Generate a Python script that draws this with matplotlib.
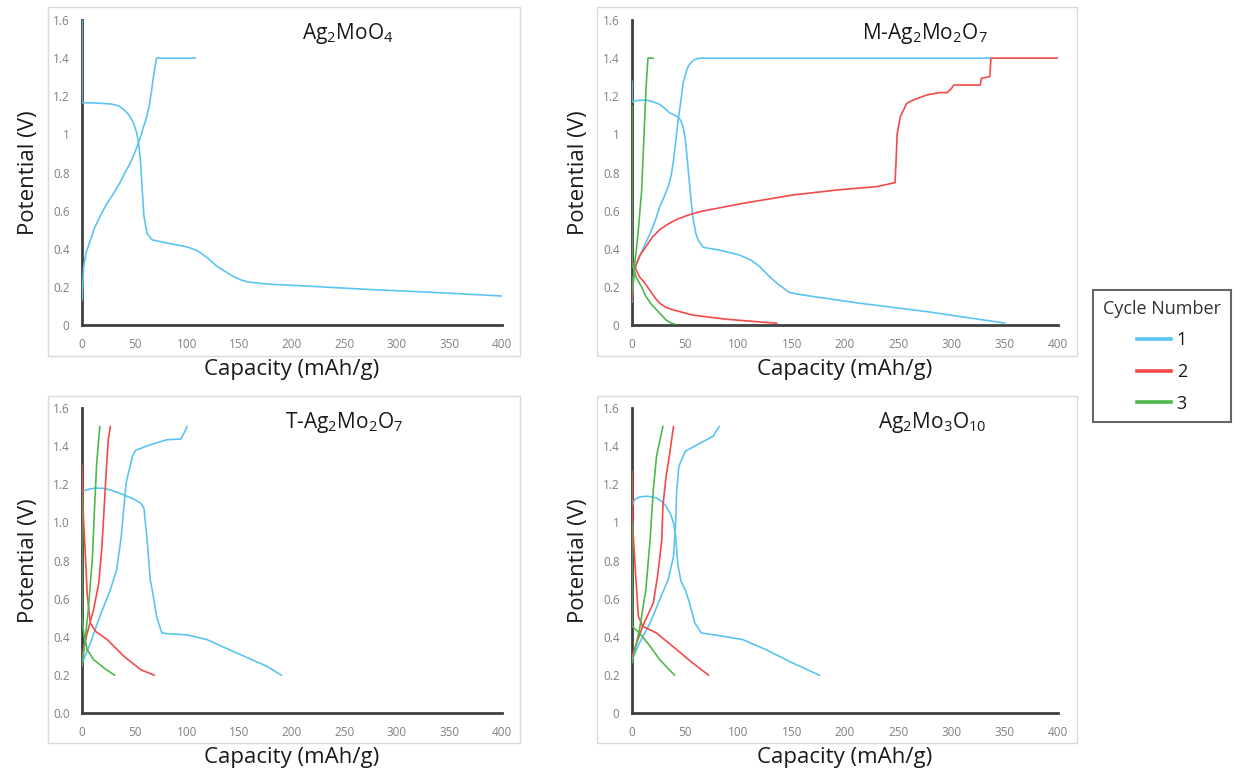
import matplotlib
matplotlib.use("Agg")
import matplotlib.pyplot as plt
from matplotlib.patches import Rectangle
from matplotlib.lines import Line2D
from matplotlib.ticker import FuncFormatter

plt.rcParams['font.family'] = ['Open Sans', 'DejaVu Sans']
plt.rcParams['mathtext.default'] = 'regular'

# ---------------- data (capacity mAh/g, potential V) ----------------
titles = [r'Ag$_2$MoO$_4$', r'M-Ag$_2$Mo$_2$O$_7$', r'T-Ag$_2$Mo$_2$O$_7$', r'Ag$_2$Mo$_3$O$_{10}$']
cycle_labels = ['1', '2', '3']
x_ticks = [0, 50, 100, 150, 200, 250, 300, 350, 400]
y_ticks = [0, 0.2, 0.4, 0.6, 0.8, 1.0, 1.2, 1.4, 1.6]

# Panel 1: Ag2MoO4
p1_c1_dis_x = [0, 0, 10, 27, 35, 40, 45, 49, 52, 54, 56, 57, 59, 62, 67, 81, 100, 110, 120, 129, 144, 152, 159, 176, 208, 271, 335, 400]
p1_c1_dis_y = [1.60, 1.166, 1.165, 1.16, 1.15, 1.13, 1.10, 1.06, 1.01, 0.95, 0.84, 0.74, 0.57, 0.48, 0.446, 0.43, 0.41, 0.39, 0.35, 0.306, 0.255, 0.235, 0.225, 0.215, 0.206, 0.187, 0.171, 0.152]
p1_c1_chg_x = [0, 1.6, 4, 8, 12, 17, 23, 30, 36, 41, 46, 50, 53, 56, 58, 61, 64, 66, 68, 71, 108]
p1_c1_chg_y = [0.13, 0.306, 0.38, 0.446, 0.51, 0.568, 0.63, 0.69, 0.745, 0.80, 0.85, 0.90, 0.945, 0.99, 1.03, 1.08, 1.15, 1.22, 1.30, 1.40, 1.40]

# Panel 2: M-Ag2Mo2O7
p2_c1_dis_x = [0, 0, 5, 10, 15, 20, 25, 29, 35, 40, 43, 46, 48, 50, 51, 54, 57, 60, 62, 67, 82, 101, 112, 120, 128, 136, 148, 161, 214, 277, 350]
p2_c1_dis_y = [1.28, 1.17, 1.178, 1.18, 1.178, 1.17, 1.16, 1.145, 1.115, 1.10, 1.093, 1.07, 1.04, 0.98, 0.92, 0.74, 0.57, 0.48, 0.446, 0.407, 0.393, 0.367, 0.34, 0.306, 0.26, 0.219, 0.17, 0.157, 0.114, 0.07, 0.01]
p2_c1_chg_x = [0, 2, 7, 12, 17, 22, 26, 30, 34, 37, 39, 41, 43, 46, 48, 51, 53, 56, 58, 61, 64, 336]
p2_c1_chg_y = [0.12, 0.28, 0.36, 0.42, 0.48, 0.55, 0.62, 0.67, 0.726, 0.79, 0.866, 0.96, 1.06, 1.18, 1.27, 1.33, 1.36, 1.38, 1.39, 1.397, 1.40, 1.40]
p2_c2_dis_x = [0, 0, 3, 7, 12, 17, 22, 26, 32, 39, 57, 89, 136]
p2_c2_dis_y = [0.45, 0.33, 0.30, 0.253, 0.22, 0.18, 0.14, 0.114, 0.092, 0.079, 0.052, 0.03, 0.009]
p2_c2_chg_x = [0, 2, 4, 8, 13, 19, 26, 34, 42, 52, 64, 104, 151, 192, 230, 247, 248, 249, 252, 258, 264, 277, 289, 296, 300, 302, 327, 328, 336, 337, 400]
p2_c2_chg_y = [0.13, 0.29, 0.32, 0.37, 0.41, 0.46, 0.50, 0.53, 0.554, 0.575, 0.595, 0.638, 0.682, 0.708, 0.726, 0.747, 0.866, 1.005, 1.093, 1.163, 1.18, 1.207, 1.219, 1.219, 1.241, 1.259, 1.259, 1.294, 1.303, 1.40, 1.40]
p2_c3_dis_x = [0, 0, 4, 9, 13, 18, 23, 28, 32, 36, 40]
p2_c3_dis_y = [1.15, 0.32, 0.25, 0.20, 0.15, 0.11, 0.08, 0.05, 0.026, 0.012, 0.005]
p2_c3_chg_x = [0, 2, 4, 6, 7, 9, 10, 11, 12, 13, 14, 15, 20]
p2_c3_chg_y = [0.17, 0.30, 0.39, 0.50, 0.57, 0.70, 0.83, 0.96, 1.09, 1.22, 1.32, 1.40, 1.40]

# Panel 3: T-Ag2Mo2O7
p3_c1_dis_x = [0, 7, 14, 21, 27, 35, 43, 50, 56, 59, 62, 65, 68, 71, 76, 81, 100, 119, 144, 176, 190]
p3_c1_dis_y = [1.163, 1.175, 1.18, 1.178, 1.17, 1.155, 1.137, 1.12, 1.10, 1.075, 0.91, 0.70, 0.61, 0.507, 0.42, 0.416, 0.41, 0.385, 0.323, 0.245, 0.198]
p3_c1_chg_x = [0, 8, 17, 27, 33, 37, 40, 42, 48, 51, 65, 81, 94, 98, 100]
p3_c1_chg_y = [0.26, 0.367, 0.507, 0.647, 0.752, 0.909, 1.084, 1.207, 1.346, 1.378, 1.407, 1.434, 1.437, 1.477, 1.504]
p3_c2_dis_x = [0, 0.5, 1.6, 3, 5, 8, 13, 24, 40, 56, 69]
p3_c2_dis_y = [1.303, 1.15, 1.0, 0.85, 0.62, 0.472, 0.428, 0.385, 0.297, 0.227, 0.198]
p3_c2_chg_x = [0, 5, 11, 16, 19, 21, 23, 25, 27]
p3_c2_chg_y = [0.297, 0.42, 0.542, 0.682, 0.874, 1.067, 1.259, 1.434, 1.504]
p3_c3_dis_x = [0, 0, 1.6, 5, 11, 21, 31]
p3_c3_dis_y = [1.15, 0.507, 0.42, 0.332, 0.28, 0.236, 0.198]
p3_c3_chg_x = [0, 3, 6, 10, 12, 14, 17]
p3_c3_chg_y = [0.245, 0.385, 0.542, 0.822, 1.084, 1.311, 1.504]

# Panel 4: Ag2Mo3O10
p4_c1_dis_x = [0, 2.5, 7, 13, 18, 23, 28, 32, 36, 39, 41, 43, 46, 50, 54, 59, 65, 82, 104, 126, 151, 176]
p4_c1_dis_y = [1.084, 1.12, 1.133, 1.137, 1.135, 1.128, 1.11, 1.084, 1.045, 0.997, 0.93, 0.78, 0.69, 0.647, 0.577, 0.472, 0.42, 0.406, 0.385, 0.332, 0.262, 0.198]
p4_c1_chg_x = [0, 7, 17, 26, 34, 39, 41, 42, 44, 50, 64, 76, 82]
p4_c1_chg_y = [0.28, 0.367, 0.472, 0.595, 0.70, 0.822, 0.997, 1.171, 1.294, 1.373, 1.416, 1.451, 1.504]
p4_c2_dis_x = [0, 0.3, 1, 3.5, 6, 10, 23, 42, 57, 72]
p4_c2_dis_y = [1.268, 1.05, 0.95, 0.717, 0.507, 0.455, 0.42, 0.332, 0.262, 0.198]
p4_c2_chg_x = [0, 10, 20, 24, 28, 29, 32, 35, 39]
p4_c2_chg_y = [0.297, 0.455, 0.577, 0.717, 0.909, 1.084, 1.241, 1.346, 1.504]
p4_c3_dis_x = [0, 0, 7, 17, 26, 40]
p4_c3_dis_y = [1.0, 0.455, 0.42, 0.35, 0.28, 0.198]
p4_c3_chg_x = [0, 7, 13, 17, 20, 23, 29]
p4_c3_chg_y = [0.262, 0.437, 0.647, 0.909, 1.171, 1.346, 1.504]

colors = ['#5cc4f0', '#f44a4a', '#4db84d']

panels = [
    [[(p1_c1_dis_x, p1_c1_dis_y), (p1_c1_chg_x, p1_c1_chg_y)], [], []],
    [[(p2_c1_dis_x, p2_c1_dis_y), (p2_c1_chg_x, p2_c1_chg_y)],
     [(p2_c2_dis_x, p2_c2_dis_y), (p2_c2_chg_x, p2_c2_chg_y)],
     [(p2_c3_dis_x, p2_c3_dis_y), (p2_c3_chg_x, p2_c3_chg_y)]],
    [[(p3_c1_dis_x, p3_c1_dis_y), (p3_c1_chg_x, p3_c1_chg_y)],
     [(p3_c2_dis_x, p3_c2_dis_y), (p3_c2_chg_x, p3_c2_chg_y)],
     [(p3_c3_dis_x, p3_c3_dis_y), (p3_c3_chg_x, p3_c3_chg_y)]],
    [[(p4_c1_dis_x, p4_c1_dis_y), (p4_c1_chg_x, p4_c1_chg_y)],
     [(p4_c2_dis_x, p4_c2_dis_y), (p4_c2_chg_x, p4_c2_chg_y)],
     [(p4_c3_dis_x, p4_c3_dis_y), (p4_c3_chg_x, p4_c3_chg_y)]],
]

W, H = 1241, 775
fig = plt.figure(figsize=(W / 100, H / 100), dpi=100)

# pixel boxes: plot area (left, top, right, bottom) and chart frame
plot_boxes = [(82, 20, 502, 325), (632, 20, 1058, 325), (82, 408, 502, 713), (632, 408, 1058, 713)]
frame_boxes = [(48, 7, 520, 356), (597, 7, 1077, 356), (48, 396, 520, 743), (597, 396, 1077, 743)]
title_pos = [(0.633, 0.955), (0.688, 0.955), (0.624, 0.951), (0.704, 0.951)]


def gen_fmt(v, pos):
    s = ('%.1f' % v).rstrip('0').rstrip('.')
    return s


def one_fmt(v, pos):
    return '%.1f' % v


for i in range(4):
    fl, ft, fr, fb = frame_boxes[i]
    fig.patches.append(Rectangle((fl / W, 1 - fb / H), (fr - fl) / W, (fb - ft) / H,
                                 transform=fig.transFigure, fill=False,
                                 edgecolor='#d9d9d9', linewidth=1.0, zorder=0))
    l, t, r, b = plot_boxes[i]
    ax = fig.add_axes([l / W, 1 - b / H, (r - l) / W, (b - t) / H])
    for ci, cyc in enumerate(panels[i]):
        for (xs, ys) in cyc:
            ax.plot(xs, ys, color=colors[ci], linewidth=1.2, solid_joinstyle='round',
                    solid_capstyle='round', zorder=3 + ci)
    ax.set_xlim(0, 400)
    ax.set_ylim(0, 1.6)
    ax.set_xticks(x_ticks)
    ax.set_yticks(y_ticks)
    ax.yaxis.set_major_formatter(FuncFormatter(one_fmt if i == 2 else gen_fmt))
    for s in ['top', 'right']:
        ax.spines[s].set_visible(False)
    for s in ['left', 'bottom']:
        ax.spines[s].set_color('#404040')
        ax.spines[s].set_linewidth(2.0)
    ax.tick_params(length=0, labelsize=8.5, labelcolor='#808080', pad=9)
    ax.set_xlabel('Capacity (mAh/g)', fontsize=16, color='#1a1a1a', labelpad=6)
    ax.set_ylabel('Potential (V)', fontsize=16, color='#1a1a1a', labelpad=10)
    ax.text(title_pos[i][0], title_pos[i][1], titles[i], transform=ax.transAxes,
            ha='center', va='center', fontsize=15, color='#1a1a1a')
    ax.patch.set_alpha(0)

handles = [Line2D([], [], color=c, linewidth=2.6) for c in colors]
leg = fig.legend(handles, cycle_labels, title='Cycle Number', loc='upper left',
                 bbox_to_anchor=(1093 / W, 1 - 290 / H), borderaxespad=0.0,
                 frameon=True, fancybox=False,
                 edgecolor='#404040', fontsize=13, title_fontsize=13,
                 handlelength=1.9, handletextpad=0.3, labelspacing=0.75,
                 borderpad=0.55)
leg.get_frame().set_linewidth(1.5)
leg._legend_box.align = 'center'
for t in leg.get_texts():
    t.set_color('#1a1a1a')
leg.get_title().set_color('#333333')

fig.savefig('out.png', dpi=100)
